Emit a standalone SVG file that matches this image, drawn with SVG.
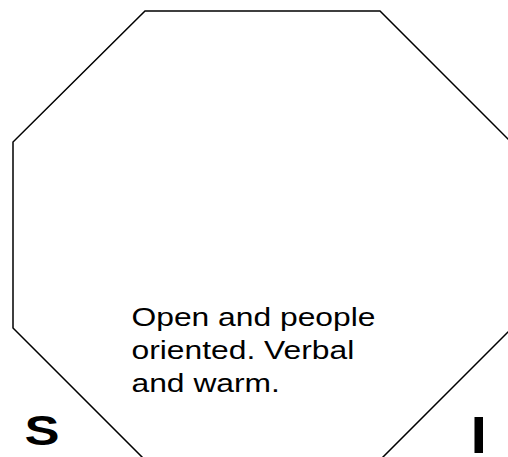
<svg xmlns="http://www.w3.org/2000/svg" width="508" height="457" viewBox="0 0 508 457">
<style>
.shape{fill:#fff;stroke:#000;stroke-width:1.5}
.body{font-family:"Liberation Sans",Arial,sans-serif;font-size:26.5px;fill:#000}
.big{font-family:"Liberation Sans",Arial,sans-serif;font-weight:bold;fill:#000}
</style>
<rect width="508" height="457" fill="#fff"/>
<g id="octagon">
<polygon class="shape" points="145,11 380,11 512,143 512,328 380,460 145,460 13,328 13,142"/>
</g>
<g id="description">
<text class="body" transform="translate(131.5,326) scale(1.2,1)">Open and people</text>
<text class="body" transform="translate(131.5,359) scale(1.2,1)">oriented. Verbal</text>
<text class="body" transform="translate(131.5,392) scale(1.2,1)">and warm.</text>
</g>
<g id="label-s">
<text class="big" font-size="42" transform="translate(24.5,445) scale(1.25,1)">S</text>
</g>
<g id="label-i">
<text class="big" font-size="52" transform="translate(470.5,453) scale(1.14,1)">I</text>
</g>
<g id="connectors"/>
</svg>
